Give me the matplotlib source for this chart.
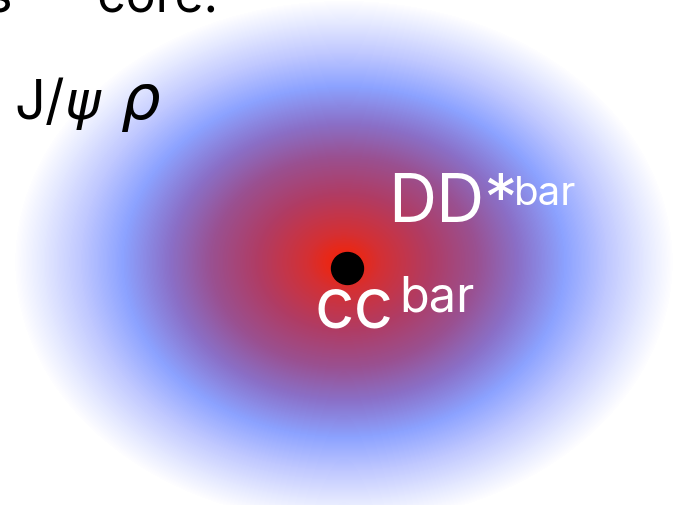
import numpy as np
import matplotlib.pyplot as plt
from matplotlib.colors import LinearSegmentedColormap, to_rgb

# gradient stops (normalised radius, colour)
stop_pos = [0.0, 0.05, 0.11, 0.26, 0.40, 0.53, 0.67, 0.80, 0.92, 1.0]
stop_col = ["#f21e0c", "#e82818", "#d43034", "#b03c64", "#9a5090",
            "#8a70c8", "#8ca2ff", "#c0c8ff", "#e6eaff", "#ffffff"]

labels = ["J/$\\psi$", "$\\rho$", "DD*", "bar", "cc", "bar", "s      core."]

W, H = 673, 505
fig = plt.figure(figsize=(W / 100, H / 100), dpi=100)
ax = fig.add_axes([0, 0, 1, 1])
ax.set_xlim(0, W)
ax.set_ylim(H, 0)
ax.axis("off")

cmap = LinearSegmentedColormap.from_list(
    "core", list(zip(stop_pos, [to_rgb(c) for c in stop_col])))

cx, cy, rx, ry = 344, 262, 330, 262
xx, yy = np.meshgrid(np.arange(W) + 0.5, np.arange(H) + 0.5)
d = np.sqrt(((xx - cx) / rx) ** 2 + ((yy - cy) / ry) ** 2)
img = cmap(np.clip(d, 0, 1))
ax.imshow(img, extent=[0, W, H, 0], interpolation="bilinear", zorder=0)

font = "Inter"
ax.text(-14, 11, labels[6], fontsize=36, family=font, color="black",
        va="baseline", ha="left")
ax.text(14, 119, labels[0], fontsize=39, family=font, color="black",
        va="baseline", ha="left")
ax.text(120, 119, labels[1], fontsize=45, family=font, color="black",
        va="baseline", ha="left")
ax.text(388, 222, labels[2], fontsize=48, family=font, color="white",
        va="baseline", ha="left")
ax.text(514, 205, labels[3], fontsize=29, family=font, color="white",
        va="baseline", ha="left")
ax.plot([347], [268], "o", color="black", markersize=23, zorder=3)
ax.text(314, 328, labels[4], fontsize=50, family=font, color="white",
        va="baseline", ha="left")
ax.text(399, 312, labels[5], fontsize=35, family=font, color="white",
        va="baseline", ha="left")

fig.savefig("out.png", dpi=100)
